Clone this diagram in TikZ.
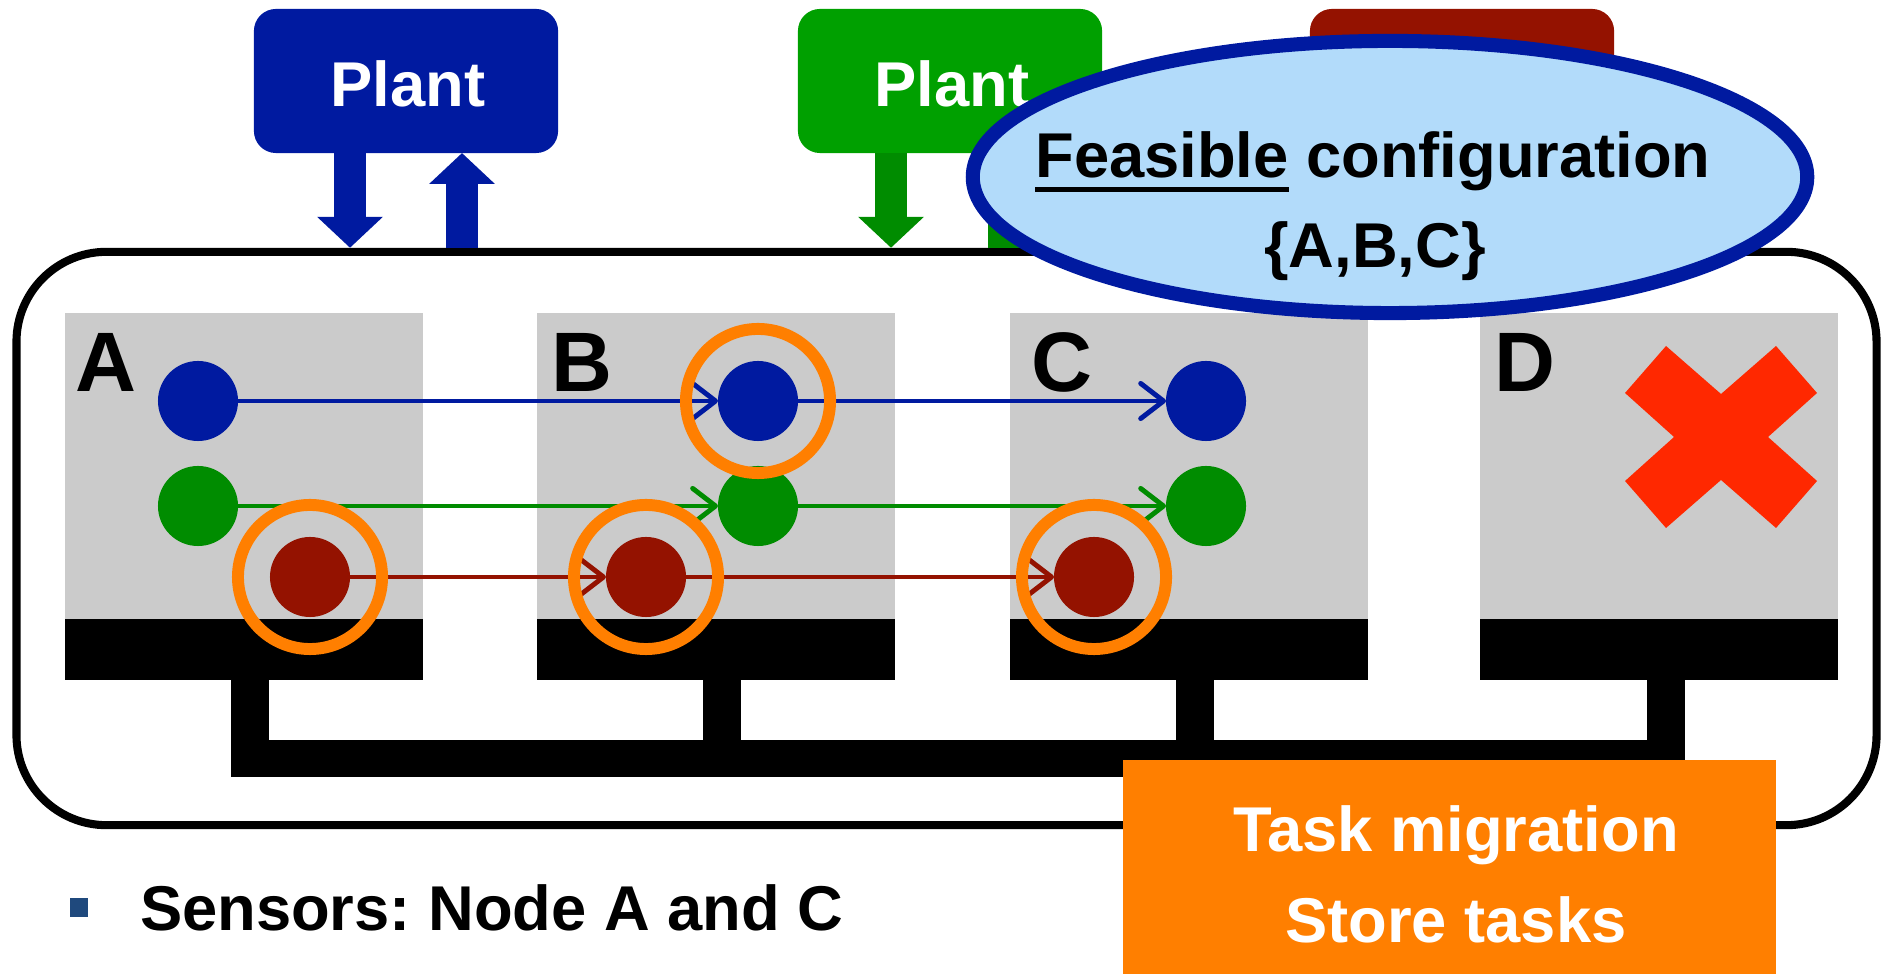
\documentclass[tikz,border=0pt]{standalone}
\usepackage{fontspec}
\setmainfont{Liberation Sans}
\usetikzlibrary{arrows.meta,shapes.geometric}

\definecolor{plantblue}{RGB}{0,26,160}
\definecolor{plantgreen}{RGB}{0,160,0}
\definecolor{flowgreen}{RGB}{0,140,0}
\definecolor{plantred}{RGB}{148,18,0}
\definecolor{migorange}{RGB}{255,127,0}
\definecolor{cfgfill}{RGB}{178,219,250}
\definecolor{panelgray}{RGB}{203,203,203}
\definecolor{crossred}{RGB}{255,40,0}
\definecolor{bulletblue}{RGB}{31,73,125}

% thick underline for a single word
\newcommand\boldul[1]{\setbox0\hbox{#1}\rlap{\rule[-3.9pt]{\wd0}{1.4pt}}\box0\relax}
\frenchspacing

\begin{document}
\begin{tikzpicture}[x=0.01cm,y=-0.01cm,
  plantbox/.style={rounded corners=0.22cm, minimum width=3.04cm, minimum height=1.44cm, inner sep=0, outer sep=0},
  bigtext/.style={font=\fontsize{18}{22}\selectfont\bfseries, inner sep=0, outer sep=0, anchor=base},
  panellabel/.style={font=\fontsize{24}{28}\selectfont\bfseries, inner sep=0, anchor=base west},
  panel/.style={fill=panelgray, minimum width=3.58cm, minimum height=3.06cm, inner sep=0, outer sep=0, anchor=north west},
  cpubar/.style={fill=black, minimum width=3.58cm, minimum height=0.61cm, inner sep=0, outer sep=0, anchor=north west},
  tasknode/.style={circle, minimum size=0.8cm, inner sep=0, outer sep=0},
  taskring/.style={circle, draw=migorange, line width=3.4pt, minimum size=1.44cm, inner sep=0},
  flowarrow/.style={line width=1.4pt, -{Straight Barb[length=6.5pt,width=10pt,round]}},
  plantarrow/.style={line width=9.1pt, -{Triangle[length=8.8pt,width=18.2pt]}},
]
\useasboundingbox (0,0) rectangle (1883,974);

% system frame
\node[draw, line width=2.3pt, rounded corners=0.9cm, minimum width=18.59cm,
      minimum height=5.73cm, inner sep=0] (frame) at (946.5,538.5) {};

% plants
\node[plantbox, fill=plantblue]  (plantA) at (406,81) {};
\node[plantbox, fill=plantgreen] (plantB) at (950,81) {};
\node[plantbox, fill=plantred]   (plantC) at (1462,81) {};

\coordinate (xa1) at (350,0);
\coordinate (xa2) at (462,0);
\coordinate (xg1) at (891,0);
\coordinate (xg2) at (1004,0);
\draw[plantarrow, plantblue] (plantA.south -| xa1) -- (frame.north -| xa1);
\draw[plantarrow, plantblue] (frame.north -| xa2) -- (plantA.south -| xa2);
\draw[plantarrow, flowgreen] (plantB.south -| xg1) -- (frame.north -| xg1);
\draw[plantarrow, flowgreen] (frame.north -| xg2) -- (plantB.south -| xg2);

\node[bigtext, white] (plantAtxt) at (408,107) {Plant};
\node[bigtext, white] (plantBtxt) at (952,107) {Plant};

% processing nodes
\node[panel] (pA) at (65,313) {};
\node[panel] (pB) at (537,313) {};
\node[panel] (pC) at (1010,313) {};
\node[panel] (pD) at (1480,313) {};
\node[cpubar] (bA) at (65,619) {};
\node[cpubar] (bB) at (537,619) {};
\node[cpubar] (bC) at (1010,619) {};
\node[cpubar] (bD) at (1480,619) {};

% shared bus
\fill[black] (231,680) rectangle (269,777);
\fill[black] (703,680) rectangle (741,777);
\fill[black] (1176,680) rectangle (1214,777);
\fill[black] (1647,680) rectangle (1685,777);
\fill[black] (231,740) rectangle (1685,777);

\node[panellabel] (labA) at (75,392) {A};
\node[panellabel] (labB) at (551,392) {B};
\node[panellabel] (labC) at (1031,392) {C};
\node[panellabel] (labD) at (1494,392) {D};

% tasks
\node[tasknode, fill=plantblue] (blueA) at (198,401) {};
\node[tasknode, fill=flowgreen] (greenA) at (198,506) {};
\node[tasknode, fill=plantred]  (redA) at (310,577) {};
\node[tasknode, fill=plantblue] (blueB) at (758,401) {};
\node[tasknode, fill=flowgreen] (greenB) at (758,506) {};
\node[tasknode, fill=plantred]  (redB) at (646,577) {};
\node[tasknode, fill=plantblue] (blueC) at (1206,401) {};
\node[tasknode, fill=flowgreen] (greenC) at (1206,506) {};
\node[tasknode, fill=plantred]  (redC) at (1094,577) {};

% control chains
\draw[flowarrow, plantblue] (blueA) -- (blueB);
\draw[flowarrow, plantblue] (blueB) -- (blueC);
\draw[flowarrow, flowgreen] (greenA) -- (greenB);
\draw[flowarrow, flowgreen] (greenB) -- (greenC);
\draw[flowarrow, plantred] (redA) -- (redB);
\draw[flowarrow, plantred] (redB) -- (redC);

% highlighted tasks
\node[taskring] (ringA) at (redA) {};
\node[taskring] (ringB1) at (blueB) {};
\node[taskring] (ringB2) at (redB) {};
\node[taskring] (ringC) at (redC) {};

% failed node
\fill[crossred, shift={(1721,437)}] (-55,-91) -- (0,-43) -- (55,-91) -- (96,-44) -- (47,0)
  -- (96,44) -- (55,91) -- (0,43) -- (-55,91) -- (-96,44) -- (-47,0) -- (-96,-44) -- cycle;

% configuration bubble
\node[ellipse, draw=plantblue, fill=cfgfill, line width=4pt, minimum width=8.34cm,
      minimum height=2.72cm, inner sep=0] (cfg) at (1390,177) {};
\node[bigtext] (cfgline1) at (1373,178) {\boldul{Feasible} configuration};
\node[bigtext] (cfgline2) at (1375,268) {\{A,B,C\}};

% migration box
\node[fill=migorange, minimum width=6.53cm, minimum height=2.16cm, anchor=north west,
      inner sep=0, outer sep=0] (migr) at (1123,760) {};
\node[bigtext, white] (migr1) at (1456,851) {Task migration};
\node[bigtext, white] (migr2) at (1456,942) {Store tasks};

% bullet line
\fill[bulletblue] (70,898) rectangle (88,917);
\node[bigtext, anchor=base west] (sens) at (140,930) {Sensors: Node A and C};
\end{tikzpicture}
\end{document}
